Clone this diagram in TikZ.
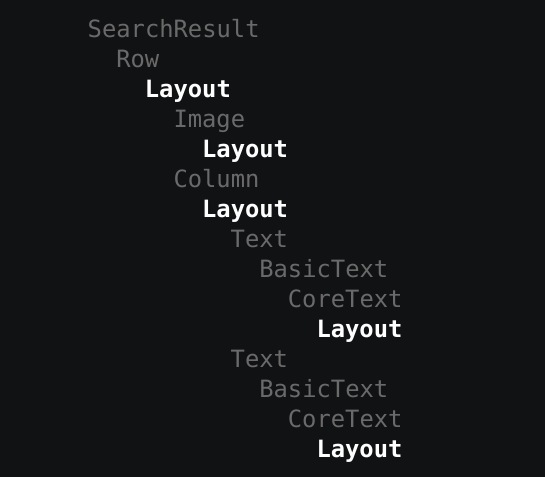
\documentclass[tikz,border=0pt]{standalone}
\usepackage{fontspec}
\setmonofont{DejaVu Sans Mono}
\definecolor{bgdark}{HTML}{111214}
\definecolor{callgray}{HTML}{6A6A6A}

\tikzset{
	call/.style={anchor=base west,inner sep=0pt,font=\ttfamily\fontsize{23.8}{26}\selectfont,text=callgray},
	layout/.style={call,font=\ttfamily\bfseries\fontsize{23.8}{26}\selectfont,text=white}
}

\begin{document}
\begin{tikzpicture}[x=1pt,y=1pt]
		\fill[bgdark] (0,0) rectangle (545,477);
		\useasboundingbox (0,0) rectangle (545,477);
		% depth 0..8, one row every 30pt
		\node[call]   (search)   at (87.5,439.5) {SearchResult};
		\node[call]   (row)      at (116.1,409.5) {Row};
		\node[layout] (rowlay)   at (144.7,379.5) {Layout};
		\node[call]   (image)    at (173.3,349.5) {Image};
		\node[layout] (imglay)   at (201.9,319.5) {Layout};
		\node[call]   (column)   at (173.3,289.5) {Column};
		\node[layout] (collay)   at (201.9,259.5) {Layout};
		\node[call]   (texta)    at (230.5,229.5) {Text};
		\node[call]   (basica)   at (259.1,199.5) {BasicText};
		\node[call]   (corea)    at (287.7,169.5) {CoreText};
		\node[layout] (corealay) at (316.3,139.5) {Layout};
		\node[call]   (textb)    at (230.5,109.5) {Text};
		\node[call]   (basicb)   at (259.1,79.5) {BasicText};
		\node[call]   (coreb)    at (287.7,49.5) {CoreText};
		\node[layout] (coreblay) at (316.3,19.5) {Layout};
	\end{tikzpicture}
\end{document}
